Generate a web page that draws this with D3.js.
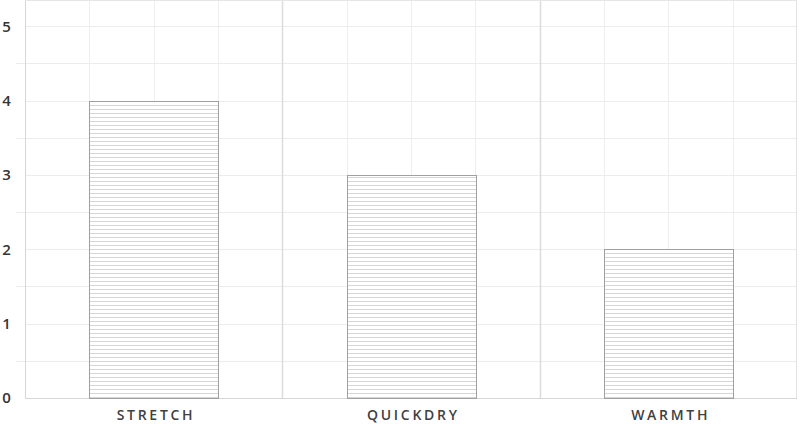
<!DOCTYPE html>
<html>
<head>
<meta charset="utf-8">
<script src="https://cdn.jsdelivr.net/npm/d3@7"></script>
<style>
  body { margin: 0; background: #fff; }
  text { font-family: "Open Sans", Lato, sans-serif; }
</style>
</head>
<body>
<div id="chart"></div>
<script>
const categories = ["STRETCH", "QUICKDRY", "WARMTH"]
const values = [4, 3, 2]
const yTicks = [0, 1, 2, 3, 4, 5]

const width = 800, height = 424
const margin = {top: 1, right: 3, bottom: 26, left: 25}
const innerW = width - margin.left - margin.right
const innerH = height - margin.top - margin.bottom

const svg = d3.select("#chart").append("svg")
    .attr("width", width).attr("height", height)

const defs = svg.append("defs")
const pat = defs.append("pattern")
    .attr("id", "stripes")
    .attr("patternUnits", "userSpaceOnUse")
    .attr("width", 8).attr("height", 4)
pat.append("rect").attr("width", 8).attr("height", 4).attr("fill", "#fff")
pat.append("line").attr("x1", 0).attr("x2", 8).attr("y1", 0.5).attr("y2", 0.5)
    .attr("stroke", "#d6d6d6").attr("stroke-width", 1)

const g = svg.append("g").attr("transform", `translate(${margin.left},${margin.top})`)

const x = d3.scaleBand().domain(categories).range([0, innerW]).paddingInner(0).paddingOuter(0)
const y = d3.scaleLinear().domain([0, 5.34]).range([innerH, 0])

// horizontal grid at every half unit
const halfSteps = d3.range(0, 5.5, 0.5)
g.append("g").selectAll("line").data(halfSteps).join("line")
    .attr("x1", d => Number.isInteger(d) ? 0 : -9).attr("x2", innerW)
    .attr("y1", d => Math.round(y(d)) + 0.5).attr("y2", d => Math.round(y(d)) + 0.5)
    .attr("stroke", "#ececec")

// vertical grid: quarter of each band
const quarters = []
categories.forEach(c => {
  for (let i = 1; i < 4; i++) quarters.push(x(c) + x.bandwidth() * i / 4)
})
g.append("g").selectAll("line").data(quarters).join("line")
    .attr("x1", d => Math.round(d) + 0.5).attr("x2", d => Math.round(d) + 0.5)
    .attr("y1", 0).attr("y2", innerH)
    .attr("stroke", "#eeeeee")

// category separators
g.append("g").selectAll("line").data(categories.slice(1)).join("line")
    .attr("x1", d => Math.round(x(d)) + 0.5).attr("x2", d => Math.round(x(d)) + 0.5)
    .attr("y1", 0).attr("y2", innerH)
    .attr("stroke", "#dcdcdc").attr("stroke-width", 1.5)

// frame
g.append("line").attr("x1", 0.5).attr("x2", 0.5).attr("y1", -1).attr("y2", innerH)
    .attr("stroke", "#d6d6d6")
g.append("line").attr("x1", innerW - 0.5).attr("x2", innerW - 0.5).attr("y1", -1).attr("y2", innerH)
    .attr("stroke", "#e2e2e2")
g.append("line").attr("x1", 0).attr("x2", innerW).attr("y1", -0.5).attr("y2", -0.5)
    .attr("stroke", "#e6e6e6")
g.append("line").attr("x1", 0).attr("x2", innerW).attr("y1", innerH + 0.5).attr("y2", innerH + 0.5)
    .attr("stroke", "#d6d6d6")

// bars
g.append("g").selectAll("rect").data(categories).join("rect")
    .attr("x", d => Math.round(x(d) + x.bandwidth() / 4) + 0.5)
    .attr("width", Math.round(x.bandwidth() / 2))
    .attr("y", (d, i) => Math.round(y(values[i])) + 0.5)
    .attr("height", (d, i) => Math.round(y(0)) - Math.round(y(values[i])))
    .attr("fill", "url(#stripes)")
    .attr("stroke", "#a0a0a0")

// y labels
g.append("g").selectAll("text").data(yTicks).join("text")
    .attr("x", -18.5).attr("y", d => y(d))
    .attr("dy", "0.36em")
    .attr("text-anchor", "middle")
    .attr("fill", "#333")
    .attr("font-size", 15).attr("font-weight", 600)
    .text(d => d)

// x labels
const ls = 2.7
g.append("g").selectAll("text").data(categories).join("text")
    .attr("x", d => x(d) + x.bandwidth() / 2 + 1 + ls / 2)
    .attr("y", innerH + 22)
    .attr("text-anchor", "middle")
    .attr("fill", "#404040")
    .attr("font-size", 14).attr("font-weight", 600)
    .attr("letter-spacing", ls + "px")
    .text(d => d)
</script>
</body>
</html>
